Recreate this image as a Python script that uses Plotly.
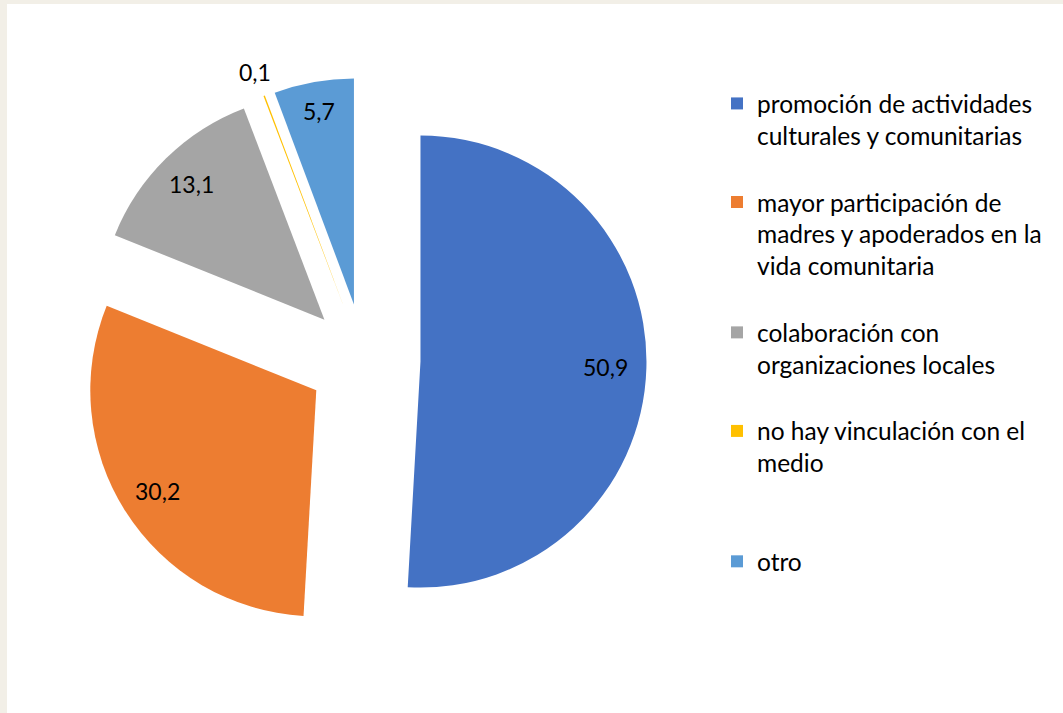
import math
import plotly.graph_objects as go

# slice data, clockwise from 12 o'clock
labels = [
    "promoción de actividades<br>culturales y comunitarias<br>&nbsp;",
    "mayor participación de<br>madres y apoderados en la<br>vida comunitaria<br>&nbsp;",
    "colaboración con<br>organizaciones locales<br>&nbsp;",
    "no hay vinculación con el<br>medio<br>&nbsp;<br>&nbsp;",
    "otro",
]
values = [50.9, 30.2, 13.1, 0.1, 5.7]
colors = ["#4472C4", "#ED7D31", "#A5A5A5", "#FFC000", "#5B9BD5"]

W, H = 1063, 713
CX, CY = 364, 360          # pie centre, px
PULL = 0.25
R = 226                     # slice radius, px
EXT = R * (1 + PULL)
label_r = [0.82, 0.83, 0.84, 1.11, 0.87]   # label distance as fraction of R

fig = go.Figure(go.Pie(
    labels=labels,
    values=values,
    sort=False,
    direction="clockwise",
    rotation=0,
    pull=PULL,
    marker=dict(colors=colors, line=dict(width=0)),
    textinfo="none",
    domain=dict(x=[(CX - EXT) / W, (CX + EXT) / W],
                y=[1 - (CY + EXT) / H, 1 - (CY - EXT) / H]),
    hoverinfo="label+value",
))

# data labels placed along each slice's mid angle
annotations = []
total = sum(values)
cum = 0
for v, f in zip(values, label_r):
    mid = (cum + v / 2) / total * 2 * math.pi
    cum += v
    dist = R * PULL + R * f
    x = CX + dist * math.sin(mid)
    y = CY - dist * math.cos(mid)
    annotations.append(dict(
        x=x / W, y=1 - y / H, xref="paper", yref="paper",
        text=f"{v:.1f}".replace(".", ","), showarrow=False,
        xanchor="center", yanchor="middle",
        font=dict(family="Lato", size=23, color="#000000"),
    ))

fig.update_layout(
    width=W, height=H,
    margin=dict(l=0, r=0, t=0, b=0, autoexpand=False),
    paper_bgcolor="#F2EFE7",
    font=dict(family="Lato", color="#000000"),
    annotations=annotations,
    shapes=[dict(type="rect", xref="paper", yref="paper", layer="below",
                 x0=7 / W, x1=1.01, y0=-0.01, y1=1 - 4 / H,
                 fillcolor="#FFFFFF", line=dict(width=0))],
    legend=dict(
        x=717 / W, xanchor="left", y=1 - 81 / H, yanchor="top",
        valign="top", bgcolor="rgba(0,0,0,0)",
        font=dict(family="Lato", size=24.5, color="#000000"),
    ),
)

fig.write_html("out.html", config={"displayModeBar": False},
               post_script="document.body.style.margin = '0';")
